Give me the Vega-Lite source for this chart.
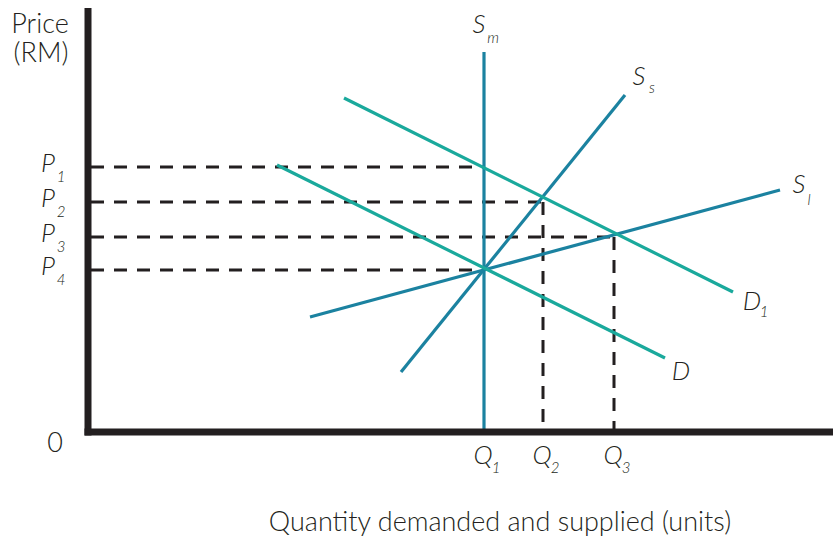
{
  "$schema": "https://vega.github.io/schema/vega-lite/v6.json",
  "width": 833,
  "height": 544,
  "padding": 0,
  "autosize": {"type": "fit", "contains": "padding"},
  "config": {"view": {"stroke": null}},
  "datasets": {
    "axes": [
      {"q": 0, "p": -0.35, "q2": 0, "p2": 42.4},
      {"q": -0.35, "p": 0, "q2": 75.5, "p2": 0}
    ],
    "guides": [
      {"q": 0.3, "p": 26.5, "q2": 39.6, "p2": 26.5},
      {"q": 0.3, "p": 23.0, "q2": 45.5, "p2": 23.0},
      {"q": 0.3, "p": 19.5, "q2": 52.6, "p2": 19.5},
      {"q": 0.3, "p": 16.2, "q2": 39.6, "p2": 16.2},
      {"q": 45.5, "p": 23.0, "q2": 45.5, "p2": 0.3},
      {"q": 52.6, "p": 19.5, "q2": 52.6, "p2": 0.3}
    ],
    "curves": [
      {"name": "Sm", "kind": "supply", "q": 39.6, "p": 0, "q2": 39.6, "p2": 38.0},
      {"name": "Ss", "kind": "supply", "q": 31.3, "p": 6.0, "q2": 53.7, "p2": 33.7},
      {"name": "Sl", "kind": "supply", "q": 22.2, "p": 11.5, "q2": 69.2, "p2": 24.2},
      {"name": "D1", "kind": "demand", "q": 25.6, "p": 33.4, "q2": 64.5, "p2": 14.0},
      {"name": "D", "kind": "demand", "q": 18.9, "p": 26.7, "q2": 57.7, "p2": 7.4}
    ],
    "plain": [
      {"t": "Price", "q": -4.8, "p": 39.9},
      {"t": "(RM)", "q": -4.7, "p": 37.0},
      {"t": "0", "q": -3.3, "p": -2.0},
      {"t": "Quantity demanded and supplied (units)", "q": 41.2, "p": -9.9}
    ],
    "mains": [
      {"t": "P", "q": -4.0, "p": 26.0},
      {"t": "P", "q": -4.0, "p": 22.5},
      {"t": "P", "q": -4.0, "p": 19.0},
      {"t": "P", "q": -4.0, "p": 15.7},
      {"t": "Q", "q": 39.5, "p": -3.2},
      {"t": "Q", "q": 45.4, "p": -3.2},
      {"t": "Q", "q": 52.5, "p": -3.2},
      {"t": "S", "q": 39.1, "p": 39.9},
      {"t": "S", "q": 55.1, "p": 34.7},
      {"t": "S", "q": 71.1, "p": 23.9},
      {"t": "D", "q": 66.4, "p": 12.2},
      {"t": "D", "q": 59.3, "p": 5.2}
    ],
    "subs": [
      {"t": "1", "q": -2.7, "p": 25.0},
      {"t": "2", "q": -2.7, "p": 21.5},
      {"t": "3", "q": -2.7, "p": 18.0},
      {"t": "4", "q": -2.7, "p": 14.7},
      {"t": "1", "q": 40.8, "p": -4.1},
      {"t": "2", "q": 46.7, "p": -4.1},
      {"t": "3", "q": 53.8, "p": -4.1},
      {"t": "m", "q": 40.5, "p": 38.9},
      {"t": "s", "q": 56.4, "p": 33.9},
      {"t": "l", "q": 72.1, "p": 22.7},
      {"t": "1", "q": 67.6, "p": 11.5}
    ]
  },
  "encoding": {
    "x": {"field": "q", "type": "quantitative", "scale": {"domain": [-8.8, 74.5], "nice": false, "zero": false}, "axis": null},
    "y": {"field": "p", "type": "quantitative", "scale": {"domain": [-11.2, 43.2], "nice": false, "zero": false}, "axis": null}
  },
  "layer": [
    {
      "data": {"name": "guides"},
      "mark": {"type": "rule", "color": "#231f20", "strokeWidth": 3, "strokeDash": [13, 10]},
      "encoding": {"x2": {"field": "q2"}, "y2": {"field": "p2"}}
    },
    {
      "data": {"name": "curves"},
      "mark": {"type": "rule", "strokeWidth": 3.2},
      "encoding": {
        "x2": {"field": "q2"},
        "y2": {"field": "p2"},
        "color": {"field": "kind", "type": "nominal", "scale": {"domain": ["supply", "demand"], "range": ["#1b82a0", "#1aa99c"]}, "legend": null},
        "detail": {"field": "name"}
      }
    },
    {
      "data": {"name": "axes"},
      "mark": {"type": "rule", "color": "#231f20", "strokeWidth": 7, "clip": true},
      "encoding": {"x2": {"field": "q2"}, "y2": {"field": "p2"}}
    },
    {
      "data": {"name": "plain"},
      "mark": {"type": "text", "font": "Lato", "fontWeight": 300, "fontSize": 27, "color": "#231f20", "align": "center", "baseline": "alphabetic"},
      "encoding": {"text": {"field": "t"}}
    },
    {
      "data": {"name": "mains"},
      "mark": {"type": "text", "font": "Lato", "fontWeight": 300, "fontStyle": "italic", "fontSize": 26, "color": "#231f20", "align": "center", "baseline": "alphabetic"},
      "encoding": {"text": {"field": "t"}}
    },
    {
      "data": {"name": "subs"},
      "mark": {"type": "text", "font": "Lato", "fontWeight": 300, "fontStyle": "italic", "fontSize": 15, "color": "#231f20", "align": "center", "baseline": "alphabetic"},
      "encoding": {"text": {"field": "t"}}
    }
  ]
}
